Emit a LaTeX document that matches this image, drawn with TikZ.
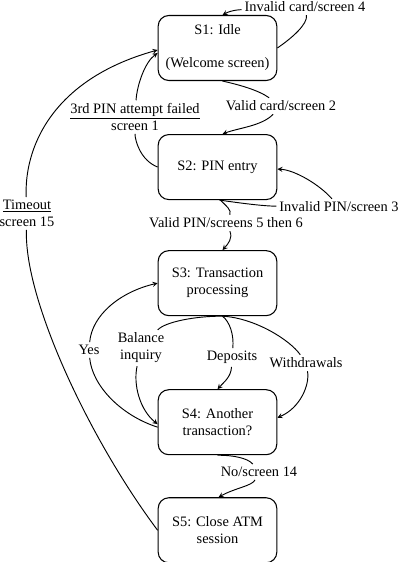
\documentclass[tikz,border=0pt]{standalone}
\usepackage{fontspec}
\setmainfont{Liberation Serif}
\usetikzlibrary{calc}
\usetikzlibrary{positioning}
\usetikzlibrary{arrows}

\begin{document}
\begin{tikzpicture}[->, >=stealth, x=0.75pt, y=0.75pt, line width=0.7pt, font=\fontsize{10.8}{12.75}\selectfont]
			\tikzstyle{state}=[draw=black, rectangle, rounded corners=8pt, minimum width=89pt, minimum height=48.75pt, align=center, line width=0.8pt, inner sep=2pt]
			\tikzstyle{lbl}=[align=center, inner sep=2pt]

			\useasboundingbox (0,0) rectangle (406,-562);

			\node[state] (s1) at (217.5,-48) {S1: Idle\\[12pt](Welcome screen)};
			\node[state, below=39.75pt of s1] (s2) {S2: PIN entry};
			\node[state, below=37.5pt of s2] (s3) {S3: Transaction\\processing};
			\node[state, below=54.75pt of s3] (s4) {S4: Another\\transaction?};
			\node[state, below=31.5pt of s4] (s5) {S5: Close ATM\\session};

			\node[lbl] (linvc) at (305,-7) {Invalid card/screen 4};
			\node[lbl] (lvc) at (281,-106) {Valid card/screen 2};
			\node[lbl] (lpin) at (135,-117) {\underline{3rd PIN attempt failed}\\screen 1};
			\node[lbl] (ltime) at (27,-213.5) {\underline{Timeout}\\screen 15};
			\node[lbl] (linvp) at (339,-207) {Invalid PIN/screen 3};
			\node[lbl] (lvp) at (226,-223) {Valid PIN/screens 5 then 6};
			\node[lbl] (lyes) at (89,-350) {Yes};
			\node[lbl] (lbal) at (141,-348) {Balance\\inquiry};
			\node[lbl] (ldep) at (232,-357.5) {Deposits};
			\node[lbl] (lwd) at (306,-363) {Withdrawals};
			\node[lbl] (lno) at (259,-472) {No/screen 14};

			\draw (s1.east) .. controls (292,-38) and (308,-24) .. (linvc) .. controls (233,-10) and (228,-12) .. ($(s1.north)+(5,0)$);
			\draw ($(s1.south)+(5,0)$) .. controls (240,-85) and (258,-90) .. (lvc) .. controls (262,-126) and (238,-128) .. ($(s2.north)+(5,0)$);
			\draw (s2.west) .. controls (140,-160) and (135,-140) .. (lpin) .. controls (137,-85) and (145,-62) .. ($(s1.west)+(0,-5)$);
			\draw (s5.west) .. controls (90,-440) and (24,-300) .. (ltime) .. controls (24,-150) and (50,-80) .. ($(s1.west)+(0,-2)$);
			\draw ($(s2.south)+(2,0)$) .. controls (240,-203) and (262,-206) .. (linvp) .. controls (320,-185) and (295,-170) .. ($(s2.east)+(0,-2)$);
			\draw ($(s2.south)+(3,0)$) .. controls (226,-206) and (232,-210) .. (lvp) .. controls (233,-238) and (228,-244) .. ($(s3.north)+(5,0)$);
			\draw ($(s4.west)+(0,-5)$) .. controls (120,-415) and (92,-385) .. (lyes) .. controls (92,-315) and (120,-292) .. (s3.west);
			\draw ($(s3.south)+(5,0)$) .. controls (195,-316) and (165,-322) .. (lbal) .. controls (133,-385) and (140,-410) .. ($(s4.west)+(0,-2)$);
			\draw ($(s3.south)+(5,0)$) .. controls (230,-322) and (234,-335) .. (ldep) .. controls (231,-377) and (224,-382) .. (s4.north);
			\draw ($(s3.south)+(5,0)$) .. controls (255,-318) and (290,-340) .. (lwd) .. controls (310,-385) and (300,-408) .. ($(s4.east)+(0,4.5)$);
			\draw (s4.south) .. controls (232,-455) and (248,-458) .. (lno) .. controls (252,-486) and (235,-488) .. ($(s5.north)+(1,0)$);
\end{tikzpicture}
\end{document}
